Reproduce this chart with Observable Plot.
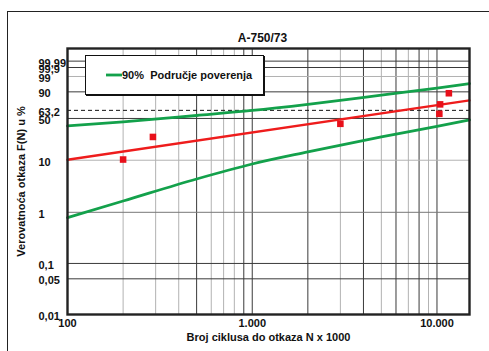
<!DOCTYPE html>
<html>
<head>
<meta charset="utf-8">
<script src="https://cdn.jsdelivr.net/npm/d3@7"></script>
<script src="https://cdn.jsdelivr.net/npm/@observablehq/plot@0.6"></script>
<style>
  html, body { margin: 0; padding: 0; background: #fff; }
  #wrap { position: relative; width: 489px; height: 351px; overflow: hidden; background: #fff; font-family: "Liberation Sans", Arial, sans-serif; }
  #outer { position: absolute; left: 7px; top: 11px; width: 600px; height: 600px; border: 1.5px solid #222; box-sizing: border-box; }
  #chart { position: absolute; left: 0; top: 0; }
  #legend { position: absolute; left: 85px; top: 55px; }
</style>
</head>
<body>
<div id="wrap">
  <div id="outer"></div>
  <div id="chart"></div>
  <svg id="legend" width="181" height="42">
    <rect x="0.5" y="0.5" width="178" height="39" fill="#fff" stroke="#111" stroke-width="1"></rect>
    <line x1="179" y1="1" x2="179" y2="40.5" stroke="#111" stroke-width="2"></line>
    <line x1="1" y1="40" x2="180" y2="40" stroke="#111" stroke-width="2"></line>
    <line x1="21" y1="20" x2="37" y2="20" stroke="#13a14b" stroke-width="2.8"></line>
    <text x="37" y="24" font-family="Liberation Sans, Arial, sans-serif" font-weight="bold" font-size="11" fill="#111" xml:space="preserve">90%  Područje poverenja</text>
  </svg>
</div>
<script>
// ---- data ----
const title = "A-750/73";
const xLabel = "Broj ciklusa do otkaza N x 1000";
const yLabel = "Verovatnoća otkaza F(N) u %";

const xTicks = [100, 1000, 10000];
const xTickLabels = ["100", "1.000", "10.000"];

const yTicks = [0.01, 0.05, 0.1, 1, 10, 50, 63.2, 90, 99, 99.9, 99.99];
const yTickLabels = ["0,01", "0,05", "0,1", "1", "10", "50", "63,2", "90", "99", "99,9", "99,99"];

const xGridDark = [500, 900, 1000, 2000, 4000, 6000, 8000, 10000];
const xGridLight = [200, 300, 400, 600, 700, 800, 3000, 5000, 7000, 9000];
const yGridDark = [99.99, 99.9, 90, 50, 0.1, 0.05];
const yGridMid = [1];
const yGridLight = [99, 10];
const yDashed = [63.2];

// failure data points (N x 1000, F %)
const pointN = [200, 290, 3000, 10300, 10400, 11600];
const pointF = [10.3, 26, 42, 57.5, 73, 88.5];

// median fit line
const fitN = [100, 15000];
const fitF = [10.2, 79.0];

// 90% confidence bounds
const confN = [100, 200, 500, 1000, 2000, 5000, 10000, 15000];
const upperF = [39.0, 44.7, 54.7, 63.0, 73.1, 86.3, 93.5, 96.4];
const lowerF = [0.79, 1.66, 4.42, 8.5, 14.2, 26.0, 38.3, 47.6];

// ---- Weibull probability transform ----
const wb = p => Math.log(-Math.log(1 - p / 100));

const green = "#13a14b";
const red = "#ee1c1c";

const points = pointN.map((n, i) => ({n, f: pointF[i]}));
const fit = fitN.map((n, i) => ({n, f: fitF[i]}));
const upper = confN.map((n, i) => ({n, f: upperF[i]}));
const lower = confN.map((n, i) => ({n, f: lowerF[i]}));

const chart = Plot.plot({
  width: 489,
  height: 351,
  marginLeft: 67,
  marginTop: 48,
  marginRight: 20,
  marginBottom: 37,
  x: {type: "log", domain: [100, 15000], axis: null},
  y: {type: "linear", domain: [wb(0.01), 2.79], axis: null},
  style: {fontFamily: "Liberation Sans, Arial, sans-serif", fontWeight: "bold", fontSize: "11px", color: "#111", background: "transparent", overflow: "visible"},
  marks: [
    Plot.ruleX(xGridLight, {x: d => d, stroke: "#b2b2b2", strokeWidth: 1}),
    Plot.ruleX(xGridDark, {x: d => d, stroke: "#3a3a3a", strokeWidth: 1}),
    Plot.ruleY(yGridLight, {y: d => wb(d), stroke: "#b2b2b2", strokeWidth: 1}),
    Plot.ruleY(yGridMid, {y: d => wb(d), stroke: "#777", strokeWidth: 1}),
    Plot.ruleY(yGridDark, {y: d => wb(d), stroke: "#3a3a3a", strokeWidth: 1}),
    Plot.ruleY(yDashed, {y: d => wb(d), stroke: "#111", strokeWidth: 1, strokeDasharray: "4,3"}),
    Plot.line(upper, {x: "n", y: d => wb(d.f), stroke: green, strokeWidth: 2.8, curve: "monotone-x"}),
    Plot.line(lower, {x: "n", y: d => wb(d.f), stroke: green, strokeWidth: 2.8, curve: "monotone-x"}),
    Plot.line(fit, {x: "n", y: d => wb(d.f), stroke: red, strokeWidth: 2.3}),
    Plot.dot(points, {x: "n", y: d => wb(d.f), symbol: "square", r: 3.7, fill: "#e8101a", stroke: "none"}),
    Plot.frame({stroke: "#222", strokeWidth: 2.4}),
    Plot.text(xTicks, {x: d => d, text: (d, i) => xTickLabels[i], frameAnchor: "bottom", dy: 12, fill: "#111"}),
    Plot.text(yTicks, {y: d => wb(d), text: (d, i) => yTickLabels[i], frameAnchor: "left", dx: -29, dy: 2, textAnchor: "start", fill: "#111"}),
    Plot.text([xLabel], {text: d => d, frameAnchor: "bottom", dy: 26, fill: "#111"}),
    Plot.text([yLabel], {text: d => d, frameAnchor: "left", dx: -46, rotate: -90, textAnchor: "middle", fill: "#111"}),
    Plot.text([title], {text: d => d, frameAnchor: "top", dy: -15, dx: -6, fontSize: 12, fill: "#111"})
  ]
});
document.getElementById("chart").appendChild(chart);
</script>
</body>
</html>
